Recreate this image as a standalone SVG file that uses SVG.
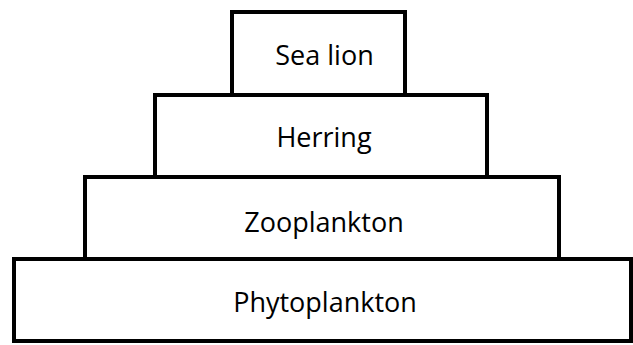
<svg xmlns="http://www.w3.org/2000/svg" width="633" height="345" viewBox="0 0 633 345">
<style>
rect{fill:#fff;stroke:#000;stroke-width:4}
text{font-family:"Open Sans","Liberation Sans",sans-serif;font-size:27px;fill:#000;text-anchor:middle}
</style>
<rect width="633" height="345" style="stroke:none"/>
<g id="phytoplankton"><rect x="14" y="259" width="617" height="82"/><text x="325" y="312">Phytoplankton</text></g>
<g id="zooplankton"><rect x="85" y="177" width="474" height="82"/><text x="324" y="232">Zooplankton</text></g>
<g id="herring"><rect x="155" y="95" width="332" height="82"/><text x="324" y="147">Herring</text></g>
<g id="sea-lion"><rect x="232" y="12" width="173" height="83"/><text x="324.5" y="65">Sea lion</text></g>
<g id="connectors"/>
</svg>
